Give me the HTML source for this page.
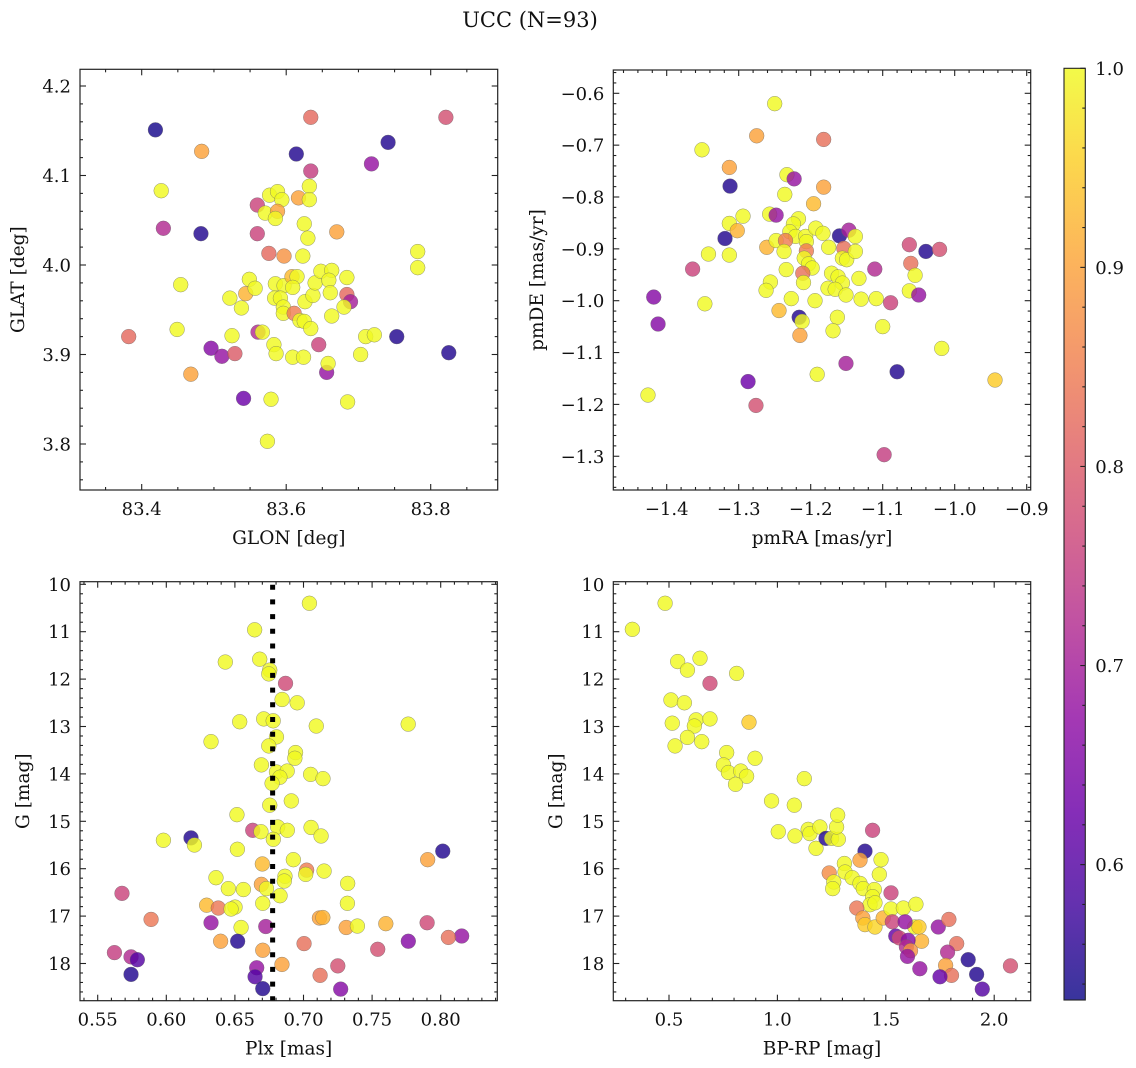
<!DOCTYPE html>
<html><head><meta charset="utf-8">
<style>
html,body{margin:0;padding:0;background:#fff;}
svg{display:block;font-family:"DejaVu Serif","Liberation Serif",serif;}
</style></head>
<body>
<svg id="fig" width="1136" height="1068" viewBox="0 0 1136 1068" xmlns="http://www.w3.org/2000/svg">
<defs><linearGradient id="cbgrad" x1="0" y1="1" x2="0" y2="0"></linearGradient></defs>
<text x="530" y="27" font-size="21" text-anchor="middle" fill="#111">UCC (N=93)</text>
</svg>
<script>
// ---- Panel 1: GLON vs GLAT ----
const glon = [83.419,83.634,83.821,83.483,83.614,83.741,83.718,83.634,83.427,83.577,83.588,83.594,83.617,83.632,83.632,83.560,83.571,83.588,83.585,83.430,83.482,83.560,83.625,83.630,83.670,83.576,83.597,83.623,83.782,83.782,83.454,83.549,83.544,83.557,83.522,83.538,83.585,83.597,83.608,83.615,83.609,83.584,83.592,83.596,83.596,83.611,83.626,83.637,83.640,83.648,83.663,83.659,83.661,83.684,83.684,83.689,83.680,83.663,83.619,83.625,83.634,83.449,83.382,83.525,83.561,83.567,83.496,83.511,83.529,83.583,83.586,83.609,83.624,83.645,83.656,83.658,83.703,83.710,83.722,83.753,83.825,83.468,83.541,83.579,83.685,83.574];
const glat = [4.151,4.165,4.165,4.127,4.124,4.137,4.113,4.105,4.083,4.078,4.082,4.073,4.075,4.088,4.073,4.067,4.058,4.060,4.052,4.041,4.035,4.035,4.046,4.030,4.037,4.013,4.010,4.010,4.015,3.997,3.978,3.984,3.968,3.974,3.963,3.952,3.979,3.977,3.987,3.987,3.975,3.963,3.963,3.953,3.946,3.946,3.959,3.966,3.980,3.993,3.994,3.983,3.969,3.986,3.967,3.959,3.953,3.943,3.938,3.937,3.929,3.928,3.920,3.921,3.925,3.925,3.907,3.898,3.901,3.911,3.901,3.897,3.897,3.911,3.880,3.890,3.900,3.920,3.922,3.920,3.902,3.878,3.851,3.850,3.847,3.803];
const probPos = [.54,.82,.78,.9,.55,.55,.68,.75,1,1,1,1,.9,1,1,.76,1,.9,1,.72,.55,.76,1,1,.9,.82,.88,1,1,1,1,1,.92,1,1,1,1,1,.93,1,1,1,1,1,1,.85,1,1,1,1,1,1,1,1,.82,.7,1,1,1,1,1,1,.82,1,.72,1,.66,.68,.8,1,1,1,1,.76,.68,1,1,1,1,.55,.55,.9,.63,1,1,1];
// ---- Panel 2: pmRA vs pmDE ----
const pmra = [-1.250,-1.275,-1.182,-1.351,-1.313,-1.312,-1.233,-1.223,-1.182,-1.236,-1.196,-1.294,-1.257,-1.248,-1.313,-1.302,-1.319,-1.217,-1.224,-1.229,-1.221,-1.207,-1.193,-1.183,-1.160,-1.147,-1.138,-1.261,-1.248,-1.235,-1.206,-1.237,-1.206,-1.209,-1.203,-1.198,-1.175,-1.154,-1.156,-1.150,-1.138,-1.342,-1.313,-1.364,-1.234,-1.211,-1.210,-1.256,-1.262,-1.171,-1.162,-1.156,-1.176,-1.166,-1.151,-1.133,-1.111,-1.227,-1.194,-1.130,-1.109,-1.089,-1.063,-1.040,-1.021,-1.061,-1.055,-1.063,-1.050,-1.418,-1.412,-1.347,-1.244,-1.216,-1.212,-1.215,-1.163,-1.169,-1.100,-1.018,-1.151,-1.191,-1.080,-1.287,-1.426,-1.276,-0.944,-1.098];
const pmde = [-0.620,-0.682,-0.689,-0.709,-0.743,-0.779,-0.757,-0.765,-0.781,-0.795,-0.813,-0.837,-0.833,-0.835,-0.851,-0.865,-0.880,-0.842,-0.852,-0.867,-0.876,-0.876,-0.860,-0.870,-0.875,-0.864,-0.876,-0.897,-0.884,-0.884,-0.886,-0.905,-0.904,-0.918,-0.929,-0.937,-0.897,-0.899,-0.918,-0.921,-0.905,-0.910,-0.912,-0.939,-0.940,-0.947,-0.965,-0.964,-0.980,-0.947,-0.954,-0.966,-0.976,-0.978,-0.989,-0.957,-0.939,-0.996,-1.000,-0.997,-0.996,-1.004,-0.892,-0.905,-0.901,-0.928,-0.951,-0.981,-0.989,-0.993,-1.045,-1.006,-1.019,-1.032,-1.040,-1.067,-1.032,-1.058,-1.050,-1.092,-1.121,-1.142,-1.137,-1.156,-1.182,-1.202,-1.153,-1.297];
const probPm = [1,.9,.83,1,.9,.55,1,.68,.9,1,.93,1,1,.68,1,.92,.55,1,1,1,1,1,1,1,.55,.7,1,.92,1,.85,1,1,.85,1,1,1,1,.83,1,1,1,1,1,.76,1,.83,1,1,1,1,1,1,1,1,1,1,.72,1,1,1,1,.76,.77,.55,.78,.83,1,1,.68,.66,.66,1,.93,.55,1,.9,1,1,1,1,.7,1,.55,.63,1,.78,.95,.75];
// ---- Panel 3: Plx vs G ----
const plx = [0.7043,0.6644,0.6681,0.6430,0.6754,0.6747,0.6869,0.6844,0.6954,0.6535,0.6710,0.6779,0.7093,0.7763,0.6803,0.6326,0.6747,0.6942,0.6937,0.6693,0.6803,0.6881,0.6828,0.6771,0.7052,0.7142,0.6911,0.6754,0.6515,0.6630,0.6690,0.6812,0.6882,0.7055,0.7128,0.6780,0.5979,0.6180,0.6205,0.6518,0.8015,0.7905,0.6926,0.6700,0.7023,0.7016,0.7150,0.6865,0.6860,0.6362,0.6693,0.6730,0.6452,0.6562,0.6829,0.7322,0.5677,0.6294,0.6379,0.6501,0.6472,0.6703,0.7320,0.5889,0.6326,0.6545,0.6725,0.7116,0.7141,0.7311,0.7393,0.7600,0.7901,0.8153,0.8056,0.7764,0.7541,0.7004,0.6396,0.6520,0.6703,0.5622,0.5743,0.5789,0.5743,0.6843,0.6659,0.6647,0.6703,0.7121,0.7250,0.7271];
const gPlx = [10.40,10.96,11.58,11.64,11.81,11.89,12.09,12.43,12.50,12.90,12.84,12.88,12.99,12.95,13.22,13.32,13.41,13.55,13.67,13.81,13.96,13.94,14.07,14.20,14.01,14.10,14.57,14.66,14.86,15.19,15.22,15.12,15.19,15.13,15.31,15.38,15.40,15.35,15.50,15.59,15.63,15.81,15.81,15.90,16.03,16.12,16.05,16.16,16.26,16.19,16.33,16.42,16.42,16.44,16.57,16.31,16.52,16.77,16.83,16.81,16.85,16.73,16.73,17.07,17.14,17.24,17.22,17.04,17.03,17.24,17.21,17.16,17.14,17.42,17.45,17.53,17.70,17.58,17.53,17.53,17.72,17.77,17.86,17.92,18.23,18.02,18.09,18.28,18.53,18.25,18.05,18.54];
const probPlx = [1,1,1,1,1,1,.77,1,1,1,1,1,1,1,1,1,1,1,1,1,1,1,1,1,1,1,1,1,1,.76,1,1,1,1,1,1,1,.55,1,1,.55,.9,1,.93,.85,1,1,1,1,1,.9,1,1,1,1,1,.76,.93,.84,1,1,1,1,.84,.68,1,.7,.9,.92,.9,1,.92,.77,.68,.83,.66,.78,.83,.9,.55,.9,.75,.72,.6,.55,.9,.68,.6,.55,.83,.78,.66];
const plxMean = [0.6775];
// ---- Panel 4: BP-RP vs G ----
const bprp = [0.482,0.331,0.540,0.643,0.585,0.812,0.689,0.509,0.571,0.515,0.625,0.617,0.689,0.869,0.585,0.528,0.651,0.766,0.897,0.751,0.774,0.831,0.858,0.807,1.124,0.973,1.078,1.004,1.081,1.142,1.150,1.196,1.178,1.224,1.250,1.281,1.273,1.278,1.439,1.404,1.381,1.478,1.470,1.309,1.312,1.239,1.260,1.255,1.345,1.381,1.396,1.447,1.439,1.427,1.450,1.524,1.366,1.394,1.404,1.450,1.488,1.524,1.581,1.639,1.634,1.653,1.665,1.530,1.589,1.546,1.562,1.603,1.595,1.614,1.600,1.657,1.742,1.791,1.827,1.785,1.776,1.803,1.750,1.880,1.919,1.945,2.075];
const gCmd = [10.40,10.95,11.63,11.56,11.81,11.88,12.09,12.44,12.50,12.93,12.86,12.99,12.84,12.91,13.23,13.41,13.32,13.55,13.67,13.81,13.97,13.94,14.05,14.22,14.10,14.57,14.66,15.22,15.31,15.17,15.26,15.12,15.57,15.36,15.36,15.38,15.12,14.87,15.19,15.63,15.82,15.81,16.12,15.89,16.07,16.09,16.28,16.42,16.19,16.31,16.42,16.44,16.59,16.76,16.72,16.51,16.83,17.04,17.18,17.23,17.04,16.85,16.83,16.75,17.23,17.23,17.53,17.12,17.12,17.42,17.46,17.51,17.65,17.73,17.85,18.11,17.23,17.07,17.58,17.76,18.04,18.25,18.28,17.92,18.23,18.54,18.05];
const probCmd = [1,1,1,1,1,1,.77,1,1,1,1,1,1,.95,1,1,1,1,1,1,1,1,1,1,1,1,1,1,1,1,1,1,1,.55,1,1,1,1,.76,.55,.9,1,1,1,1,.87,1,1,1,1,1,1,1,1,1,.76,.84,.9,.95,.96,.92,1,1,1,1,.95,.92,.76,.68,.62,.77,.66,.72,.88,.68,.68,.68,.83,.83,.72,.9,.83,.62,.55,.55,.6,.78];
// ---- Colorbar ----
const cbTicks = [0.6,0.7,0.8,0.9,1.0];
const cbMin = 0.532, cbMax = 1.0;

const NS = "http://www.w3.org/2000/svg";
const fig = document.getElementById('fig');
const plasma = [[13,8,135],[65,4,157],[106,0,168],[143,13,164],[177,42,144],[204,71,120],[225,100,98],[242,132,75],[252,166,54],[252,206,37],[240,249,33]];
function cmap(p){
  let t = (p - cbMin) / (cbMax - cbMin); t = Math.max(0, Math.min(1, t));
  const f = t * 10, i = Math.min(9, Math.floor(f)), r = f - i;
  const a = plasma[i], b = plasma[i+1];
  return 'rgb(' + [0,1,2].map(k => Math.round(a[k] + (b[k]-a[k])*r)).join(',') + ')';
}
function el(tag, attrs, parent){
  const e = document.createElementNS(NS, tag);
  for (const k in attrs) e.setAttribute(k, attrs[k]);
  (parent || fig).appendChild(e);
  return e;
}
function fmt(v, d){ const s = v.toFixed(d); return s.replace('-', '\u2212'); }
const TICK_FS = 18, LABEL_FS = 18.5;

function panel(cfg, xs, ys, ps){
  const g = el('g', {});
  
  
  const sx = v => cfg.px0 + (v - cfg.x0) * cfg.kx;
  const sy = v => cfg.py0 + (v - cfg.y0) * cfg.ky;
  const L = cfg.L, R = cfg.R, T = cfg.T, B = cfg.B;
  const pts = el('g', {}, g);
  
  
  for (let i = 0; i < xs.length; i++){
    const c = el('circle', {cx: sx(xs[i]), cy: sy(ys[i]), r: 7.4, fill: cmap(ps[i]), 'fill-opacity': 0.82, stroke: '#666', 'stroke-width': 0.5, 'stroke-opacity': 0.7}, pts);
    
    
  }
  if (cfg.vline !== undefined){
    const vl = el('line', {x1: sx(cfg.vline), x2: sx(cfg.vline), y1: T + 3, y2: B, stroke: '#000', 'stroke-width': 5, 'stroke-dasharray': '5 9.7'}, g);
    
    
  }
  const fr = el('rect', {x: L, y: T, width: R - L, height: B - T, fill: 'none', stroke: '#222', 'stroke-width': 1.2}, g);
  
  
  const tk = el('g', {stroke: '#222', 'stroke-width': 1.1}, g);
  
  
  for (let v = cfg.xmin0; v <= cfg.xmax0 + 1e-9; v += cfg.xminor){
    const x = sx(v); if (x < L || x > R) continue;
    const major = Math.abs(v / cfg.xmajor - Math.round(v / cfg.xmajor)) < 1e-6;
    const len = major ? 6 : 3;
    el('line', {x1: x, x2: x, y1: B, y2: B - len}, tk);
    el('line', {x1: x, x2: x, y1: T, y2: T + len}, tk);
  }
  for (let v = cfg.ymin0; v <= cfg.ymax0 + 1e-9; v += cfg.yminor){
    const y = sy(v); if (y < T || y > B) continue;
    const major = Math.abs(v / cfg.ymajor - Math.round(v / cfg.ymajor)) < 1e-6;
    const len = major ? 6 : 3;
    el('line', {x1: L, x2: L + len, y1: y, y2: y}, tk);
    el('line', {x1: R, x2: R - len, y1: y, y2: y}, tk);
  }
  for (const v of cfg.xticks){
    const t = el('text', {x: sx(v), y: B + 25, 'font-size': TICK_FS, 'text-anchor': 'middle', fill: '#111'}, g);
    t.textContent = fmt(v, cfg.xd);
    
    
  }
  for (const v of cfg.yticks){
    const t = el('text', {x: L - 9, y: sy(v) + 6.5, 'font-size': TICK_FS, 'text-anchor': 'end', fill: '#111'}, g);
    t.textContent = fmt(v, cfg.yd);
    
    
  }
  const xl = el('text', {x: (L + R) / 2, y: B + 54, 'font-size': LABEL_FS, 'text-anchor': 'middle', fill: '#111'}, g);
  xl.textContent = cfg.xlabel;
  
  
  const yx = cfg.ylx, yy = (T + B) / 2;
  const yl = el('text', {x: yx, y: yy, 'font-size': LABEL_FS, 'text-anchor': 'middle', fill: '#111', transform: 'rotate(-90 ' + yx + ' ' + yy + ')'}, g);
  yl.textContent = cfg.ylabel;
  
  
}

panel({name:'glon-glat-panel', L:80, R:497.7, T:69.3, B:490, px0:141.7, x0:83.4, kx:144.5/0.2, py0:86, y0:4.2, ky:-89.5/0.1,
  xmin0:83.3, xmax0:83.9, xminor:0.05, xmajor:0.2, ymin0:3.7, ymax0:4.25, yminor:0.02, ymajor:0.1,
  xticks:[83.4,83.6,83.8], yticks:[3.8,3.9,4.0,4.1,4.2], xd:1, yd:1, xlabel:'GLON [deg]', ylabel:'GLAT [deg]', ylx:24}, glon, glat, probPos);
panel({name:'pm-panel', L:613.3, R:1030.7, T:70, B:490, px0:666.7, x0:-1.4, kx:72/0.1, py0:93.3, y0:-0.6, ky:-51.85/0.1,
  xmin0:-1.5, xmax0:-0.88, xminor:0.02, xmajor:0.1, ymin0:-1.4, ymax0:-0.54, yminor:0.02, ymajor:0.1,
  xticks:[-1.4,-1.3,-1.2,-1.1,-1.0,-0.9], yticks:[-1.3,-1.2,-1.1,-1.0,-0.9,-0.8,-0.7,-0.6], xd:1, yd:1, xlabel:'pmRA [mas/yr]', ylabel:'pmDE [mas/yr]', ylx:543}, pmra, pmde, probPm);
panel({name:'plx-g-panel', L:80, R:497.3, T:581.7, B:1000.7, px0:97.7, x0:0.55, kx:68.6/0.05, py0:584.3, y0:10, ky:47.4,
  xmin0:0.53, xmax0:0.85, xminor:0.01, xmajor:0.05, ymin0:9.8, ymax0:19, yminor:0.2, ymajor:1,
  xticks:[0.55,0.60,0.65,0.70,0.75,0.80], yticks:[10,11,12,13,14,15,16,17,18], xd:2, yd:0, xlabel:'Plx [mas]', ylabel:'G [mag]', ylx:29, vline:plxMean[0]}, plx, gPlx, probPlx);
panel({name:'cmd-panel', L:613.3, R:1030.7, T:581.7, B:1000.7, px0:669, x0:0.5, kx:108.4/0.5, py0:584.3, y0:10, ky:47.4,
  xmin0:0.2, xmax0:2.2, xminor:0.1, xmajor:0.5, ymin0:9.8, ymax0:19, yminor:0.2, ymajor:1,
  xticks:[0.5,1.0,1.5,2.0], yticks:[10,11,12,13,14,15,16,17,18], xd:1, yd:0, xlabel:'BP-RP [mag]', ylabel:'G [mag]', ylx:562}, bprp, gCmd, probCmd);

const grad = document.getElementById('cbgrad');
for (let i = 0; i <= 20; i++){
  const p = cbMin + (cbMax - cbMin) * i / 20;
  el('stop', {offset: (i / 20), 'stop-color': cmap(p), 'stop-opacity': 0.82}, grad);
}
const cb = el('g', {});


const cbT = 68.3, cbB = 1000, cbL = 1064, cbR = 1085.3;
const cy = v => cbT + (cbMax - v) * (cbB - cbT) / (cbMax - cbMin);
el('rect', {x: cbL, y: cbT, width: cbR - cbL, height: cbB - cbT, fill: 'url(#cbgrad)', stroke: '#222', 'stroke-width': 1.1}, cb);
for (let v = 0.54; v <= 1.0001; v += 0.02){
  const major = Math.abs(v * 10 - Math.round(v * 10)) < 1e-6;
  el('line', {x1: cbR, x2: cbR - (major ? 5 : 3), y1: cy(v), y2: cy(v), stroke: '#222', 'stroke-width': 1.1}, cb);
}
for (const v of cbTicks){
  const t = el('text', {x: cbR + 10, y: cy(v) + 6.5, 'font-size': TICK_FS, fill: '#111'}, cb);
  t.textContent = v.toFixed(1);
  
  
}
</script>
</body></html>
